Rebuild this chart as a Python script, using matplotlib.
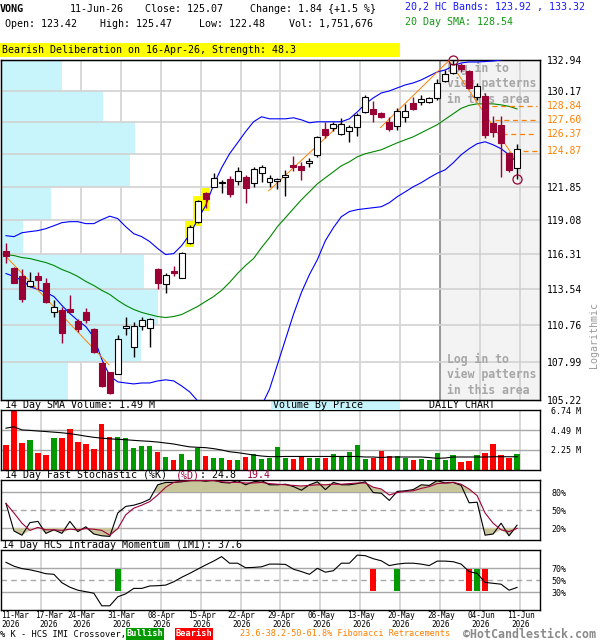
import numpy as np
import matplotlib
matplotlib.use("Agg")
import matplotlib.pyplot as plt
import matplotlib.ticker as mticker
from matplotlib.patches import Rectangle

plt.rcParams['font.family'] = ['DejaVu Sans Mono']

# ---------------- data ----------------
dates = ['11-Mar', '17-Mar', '24-Mar', '31-Mar', '08-Apr', '15-Apr', '22-Apr',
         '29-Apr', '06-May', '13-May', '20-May', '28-May', '04-Jun', '11-Jun']
date_idx = [0, 4, 9, 14, 19, 24, 29, 34, 39, 44, 49, 54, 59, 64]

opens = [116.59, 115.24, 114.61, 113.82, 114.61, 114.06, 111.82, 111.97, 112.05, 111.12,
         111.82, 110.51, 107.95, 107.23, 107.15, 110.59, 109.09, 110.74, 110.59, 115.16,
         113.98, 115.01, 114.46, 117.25, 118.94, 121.34, 121.84, 122.17, 122.51, 122.34,
         122.68, 122.17, 123.02, 122.26, 122.34, 122.68, 123.70, 123.61, 123.87, 124.55,
         126.79, 126.88, 126.36, 126.62, 126.97, 128.29, 128.55, 128.20, 127.40, 127.05,
         127.84, 129.08, 129.17, 129.17, 129.52, 131.04, 131.76, 132.49, 131.94, 129.61,
         129.70, 127.31, 127.14, 124.72, 123.42]
highs = [117.22, 115.30, 115.16, 114.93, 114.93, 114.46, 112.74, 112.20, 113.13, 111.28,
         112.12, 110.58, 108.00, 107.30, 110.06, 111.43, 111.05, 111.43, 111.30, 115.24,
         114.85, 115.40, 116.51, 118.70, 120.76, 121.42, 123.02, 122.43, 122.77, 123.53,
         122.85, 123.53, 123.70, 122.85, 122.60, 123.27, 124.46, 123.95, 124.29, 126.19,
         127.40, 127.40, 127.75, 127.14, 128.20, 129.79, 129.26, 128.29, 127.84, 128.64,
         128.99, 129.61, 129.79, 129.61, 131.22, 132.03, 132.92, 132.67, 132.00, 130.86,
         129.97, 127.93, 127.93, 124.80, 125.47]
lows = [115.64, 114.00, 112.59, 113.74, 113.58, 112.51, 111.43, 109.46, 111.80, 110.29,
        110.97, 108.70, 106.20, 105.63, 107.10, 110.06, 108.39, 110.44, 109.09, 113.58,
        113.28, 114.61, 114.44, 117.17, 118.86, 120.10, 121.80, 121.34, 121.01, 122.00,
        120.51, 121.84, 122.26, 121.84, 121.67, 121.09, 123.19, 122.43, 123.53, 124.38,
        126.02, 126.62, 126.27, 125.67, 126.19, 128.20, 127.40, 127.75, 126.62, 126.71,
        127.40, 128.46, 128.90, 129.08, 129.35, 130.95, 131.67, 131.85, 130.32, 129.35,
        126.02, 126.10, 122.68, 123.10, 122.48]
closes = [116.19, 114.06, 112.82, 114.22, 114.30, 112.59, 112.20, 110.21, 111.82, 110.51,
          111.20, 108.72, 106.21, 105.70, 109.76, 110.74, 110.74, 111.20, 111.28, 114.06,
          114.69, 114.85, 116.43, 118.54, 120.68, 120.84, 122.60, 122.26, 121.26, 123.19,
          121.75, 123.36, 123.53, 122.60, 122.51, 122.85, 123.53, 123.27, 124.04, 126.10,
          126.27, 127.23, 127.23, 126.97, 128.02, 129.61, 128.11, 127.84, 126.79, 128.38,
          128.38, 128.55, 129.44, 129.52, 130.86, 131.67, 132.58, 132.13, 130.41, 130.59,
          126.27, 126.53, 125.59, 123.23, 125.07]

band_upper = [117.81, 117.73, 118.05, 118.14, 118.22, 118.38, 118.62, 118.87, 118.95, 118.95,
              118.79, 118.79, 119.12, 119.40, 119.20, 118.54, 117.97, 117.73, 117.33, 116.77,
              116.29, 116.37, 117.01, 117.89, 119.12, 120.27, 122.01, 123.44, 124.64, 125.58,
              126.54, 127.41, 127.85, 127.67, 127.67, 127.67, 127.76, 127.58, 127.32, 127.41,
              127.41, 127.41, 127.41, 127.67, 128.28, 128.99, 129.52, 129.96, 130.14, 130.41,
              130.68, 130.86, 131.13, 131.49, 131.85, 132.03, 132.39, 132.67, 132.76, 132.76,
              132.80, 132.85, 132.94, 133.21, 133.32]
sma20 = [116.29, 116.21, 116.05, 115.97, 115.81, 115.65, 115.42, 115.10, 114.86, 114.55,
         114.16, 113.84, 113.46, 113.14, 112.68, 112.29, 111.98, 111.75, 111.59, 111.44,
         111.36, 111.44, 111.59, 111.90, 112.21, 112.60, 112.98, 113.46, 114.08, 114.79,
         115.42, 115.97, 116.85, 117.65, 118.55, 119.28, 120.02, 120.76, 121.42, 122.09,
         122.60, 123.10, 123.61, 123.95, 124.38, 124.64, 124.81, 124.98, 125.28, 125.58,
         125.84, 126.10, 126.45, 126.80, 127.15, 127.63, 128.11, 128.59, 128.86, 128.99,
         128.99, 128.99, 128.90, 128.77, 128.54]
band_lower = [114.78, 114.55, 114.24, 113.76, 113.53, 113.30, 112.98, 112.29, 111.67, 111.13,
              110.67, 109.85, 108.20, 106.98, 106.54, 106.46, 106.39, 106.46, 106.46, 106.61,
              106.69, 106.61, 106.24, 105.81, 105.16, 104.60, 104.10, 103.70, 103.40, 103.30,
              103.40, 103.70, 104.80, 106.00, 107.83, 109.70, 111.60, 113.30, 114.70, 115.89,
              117.41, 118.46, 119.36, 119.78, 119.94, 120.02, 120.10, 120.18, 120.51, 121.01,
              121.42, 121.84, 122.18, 122.60, 122.98, 123.27, 123.86, 124.55, 125.07, 125.50,
              125.67, 125.41, 125.07, 124.55, 123.92]

# volume in millions of shares
volume = [2.81, 6.90, 3.00, 3.37, 1.87, 1.68, 3.63, 3.63, 4.60, 3.14,
          2.92, 2.36, 5.13, 3.71, 3.71, 3.59, 2.47, 2.70, 2.70, 2.02,
          1.46, 1.12, 1.80, 1.12, 2.51, 1.57, 1.35, 1.35, 1.12, 1.12,
          1.46, 1.80, 1.24, 1.35, 2.58, 1.35, 1.24, 1.57, 1.35, 1.35,
          1.35, 1.80, 1.50, 2.02, 2.81, 1.24, 1.35, 2.13, 1.57, 1.57,
          1.35, 1.12, 1.24, 1.12, 1.91, 1.12, 1.68, 0.90, 1.01, 1.68,
          1.91, 2.92, 1.68, 1.35, 1.75]
vol_sma = [4.70, 4.85, 4.50, 4.45, 4.38, 4.32, 4.25, 4.18, 4.08, 3.95,
           3.80, 3.67, 3.58, 3.50, 3.45, 3.40, 3.33, 3.27, 3.22, 3.14,
           3.03, 2.92, 2.75, 2.60, 2.55, 2.51, 2.40, 2.25, 2.05, 1.95,
           1.82, 1.68, 1.57, 1.50, 1.50, 1.52, 1.52, 1.52, 1.52, 1.52,
           1.52, 1.52, 1.52, 1.52, 1.52, 1.46, 1.46, 1.40, 1.46, 1.46,
           1.46, 1.46, 1.46, 1.40, 1.31, 1.35, 1.46, 1.46, 1.46, 1.46,
           1.46, 1.49, 1.49, 1.49, 1.49]

# volume by price, bins from bottom to top (millions)
vbp_volume = [9.4, 19.6, 22.0, 20.0, 3.1, 7.0, 18.1, 18.8, 14.3, 8.5]

stoch_k = [61, 15, 8, 29, 31, 11, 17, 11, 31, 14,
           22, 10, 7, 6, 45, 56, 58, 62, 68, 92,
           96, 96, 97, 99, 100, 98, 100, 96, 95, 99,
           92, 97, 99, 92, 92, 93, 89, 83, 92, 97,
           84, 96, 92, 92, 94, 97, 79, 78, 66, 81,
           82, 84, 92, 91, 99, 95, 96, 91, 62, 63,
           8, 10, 28, 7, 24.8]
stoch_d = [61, 45, 28, 16, 21, 17, 17, 16, 18, 17,
           19, 18, 16, 8, 19, 42, 53, 58, 64, 75,
           88, 96, 98, 99, 99, 99, 99, 97, 96, 96,
           95, 95, 96, 94, 93, 92, 91, 90, 91, 92,
           92, 93, 93, 94, 95, 95, 88, 85, 75, 79,
           81, 82, 86, 89, 94, 95, 96, 93, 85, 74,
           45, 28, 17, 14, 19.4]

imi = [79.4, 73, 69, 67, 64, 60.5, 59.5, 45.5, 38, 33,
       30.5, 28, 7, 7, 22, 27, 36, 36, 40, 40.5,
       41.5, 47, 54.5, 61, 68, 75, 81.5, 89, 78, 78,
       70.5, 71, 72, 76.5, 76.5, 76, 68, 64, 59.5, 69.5,
       63, 65.5, 78, 78, 91.5, 90.5, 85.5, 82, 74, 76.5,
       78, 78, 76.5, 74, 81.5, 81.5, 80.5, 76.5, 64, 61,
       46, 44.5, 43, 33, 37.6]
cross_idx = [14, 46, 49, 58, 59, 60]
cross_bull = [True, False, True, False, True, False]

pattern_idx = [23, 24, 25]
fib_levels = [128.84, 127.60, 126.37, 124.87]
fib_from = [60.9, 61.3, 62.1, 64.7]
trend_x = [(-0.25, 12.9), (32.9, 42.0), (46.9, 55.9), (55.0, 64.0)]
trend_p = [(116.3, 107.8), (121.5, 127.3), (126.9, 133.2), (133.4, 123.95)]

# ---------------- styling ----------------
W, H = 600, 640
CANDLE_RED = '#990033'
D_RED = '#a0003c'
VOL_RED = '#ff0000'
VOL_GREEN = '#009900'
ORANGE = '#ff8000'
CYAN = '#c8f4fc'
GRID = '#d2d2d2'
HGRID = '#a8a8a8'
XLIM = (-0.625, 66.875)
grid_x = np.arange(5, 66, 5) - 0.625
shade_from = 54.375

fig = plt.figure(figsize=(W / 100, H / 100), dpi=100)


def panel(top, bottom):
    return fig.add_axes([1 / W, 1 - bottom / H, 539 / W, (bottom - top) / H])


def ftext(px, py, s, **kw):
    kw.setdefault('va', 'center')
    kw.setdefault('fontsize', 7.2)
    return fig.text(px / W, 1 - py / H, s, **kw)


def fbox(x0, y0, x1, y1, color):
    fig.add_artist(Rectangle((x0 / W, 1 - y1 / H), (x1 - x0) / W, (y1 - y0) / H,
                             transform=fig.transFigure, color=color, lw=0))


x = np.arange(len(closes))
o, hi, lo, c = map(np.array, (opens, highs, lows, closes))
up = c >= o

# ---------------- main price panel ----------------
ax = panel(60, 400)
ax.set_yscale('log')
ax.set_xlim(*XLIM)
ax.set_ylim(105.22, 132.94)
back = ax.twiny()
back.set_xlim(0, 75.6)
back.set_xticks([])
ax.set_zorder(back.get_zorder() + 1)
ax.patch.set_visible(False)
xt = ax.get_xaxis_transform()

back.add_patch(Rectangle((shade_from, 0), XLIM[1] - shade_from, 1, transform=xt,
                         color='#f3f3f3', lw=0, zorder=0))
for gx in grid_x:
    back.plot([gx, gx], [0, 1], transform=xt, color='#888888' if gx == shade_from else GRID,
              lw=1.2, zorder=0.5)
price_ticks = np.linspace(105.22, 132.94, 11)
back.barh(price_ticks[:-1], vbp_volume, height=np.diff(price_ticks), align='edge',
          color=CYAN, lw=0, zorder=1)
for t in price_ticks[1:-1]:
    back.axhline(t, color=GRID, lw=1.2, zorder=2)
back.set_xlim(0, 75.6)

# login notes (top-left corner of each block, in pixels)
for py in (62, 353):
    ax.text(446 / 539, 1 - (py - 60) / 340, 'Log in to\nview patterns\nin this area',
            transform=ax.transAxes, color='#a6a6a6', fontsize=8.3, fontweight='bold',
            va='top', ha='left', linespacing=1.22, zorder=1)

# pattern highlight
ax.bar(pattern_idx, hi[pattern_idx] * 1.0025 - lo[pattern_idx] * 0.9975,
       bottom=lo[pattern_idx] * 0.9975, width=1.15, color='#ffff00', lw=0, zorder=2)

ax.plot(x, band_upper, color='#0000ff', lw=0.8, zorder=3)
ax.plot(x, band_lower, color='#0000ff', lw=0.8, zorder=3)
ax.plot(x, sma20, color='#008800', lw=0.8, zorder=3)
for tx, tp in zip(trend_x, trend_p):
    ax.plot(tx, tp, color=ORANGE, lw=0.7, zorder=3)
for lvl, f0 in zip(fib_levels, fib_from):
    ax.hlines(lvl, f0, 66.5, colors=ORANGE, lw=0.9, linestyles=(0, (4, 3)), zorder=3)
    ax.text(1.012, lvl, f'{lvl:.2f}', transform=ax.get_yaxis_transform(), color=ORANGE,
            fontsize=7, va='center', ha='left')

ax.vlines(x, lo, hi, colors=np.where(up, 'black', CANDLE_RED), lw=1, zorder=4)
ax.bar(x, np.maximum(np.abs(c - o), 0.02), bottom=np.minimum(o, c), width=0.75,
       color=np.where(up, 'white', CANDLE_RED), edgecolor=np.where(up, 'black', CANDLE_RED),
       lw=0.8, zorder=5)
ax.plot([56], [hi[56]], 'o', ms=6.5, mfc='none', mec=CANDLE_RED, mew=0.9, zorder=6,
        clip_on=False)
ax.plot([64], [lo[64]], 'o', ms=6.5, mfc='none', mec=CANDLE_RED, mew=0.9, zorder=6)

ax.yaxis.tick_right()
ax.yaxis.set_minor_locator(mticker.NullLocator())
ax.set_yticks(price_ticks)
ax.set_yticklabels(['' if abs(t - 127.40) < 0.05 or abs(t - 124.63) < 0.05 else f'{t:.2f}'
                    for t in price_ticks])
ax.tick_params(axis='y', length=0, pad=5, labelsize=7)
ax.set_xticks([])
ax.set_ylim(105.22, 132.94)
ax.set_xlim(*XLIM)
for s in ax.spines.values():
    s.set_linewidth(1)


def style_lower(a, ylim, ticks, labels):
    a.set_xlim(*XLIM)
    a.set_ylim(*ylim)
    a.set_xticks([])
    a.yaxis.tick_right()
    a.set_yticks(ticks)
    a.set_yticklabels(labels)
    a.tick_params(axis='y', length=0, pad=8, labelsize=6)
    for gx in grid_x:
        a.axvline(gx, color=GRID, lw=1.2, zorder=0)
    for s in a.spines.values():
        s.set_linewidth(1)


# ---------------- volume panel ----------------
av = panel(410, 470)
style_lower(av, (0, 6.74), [2.25, 4.49, 6.74], ['2.25 M', '4.49 M', '6.74 M'])
for t in (2.25, 4.49):
    av.axhline(t, color=HGRID, lw=1, zorder=0.5)
av.bar(x, volume, width=0.67, color=np.where(up, VOL_GREEN, VOL_RED), lw=0, zorder=2)
av.plot(x, vol_sma, color='black', lw=0.8, zorder=3)

# ---------------- stochastic panel ----------------
ast = panel(480, 540)
style_lower(ast, (0, 100), [20, 50, 80], ['20%', '50%', '80%'])
ast.axhline(80, color=HGRID, lw=1, zorder=0.5)
ast.axhline(20, color=HGRID, lw=1, zorder=0.5)
ast.axhline(50, color=HGRID, lw=1, ls=(0, (4, 3)), zorder=0.5)
k = np.array(stoch_k, float)
d = np.array(stoch_d, float)
top_env = np.maximum(k, d)
bot_env = np.minimum(k, d)
ast.fill_between(x, 80, top_env, where=top_env > 80, interpolate=True, color='#c9c59b',
                 lw=0, zorder=1)
ast.fill_between(x, 20, bot_env, where=bot_env < 20, interpolate=True, color='#c9c59b',
                 lw=0, zorder=1)
ast.plot(x, k, color='black', lw=0.8, zorder=3)
ast.plot(x, d, color=D_RED, lw=0.8, zorder=3)

# ---------------- IMI panel ----------------
ai = panel(550, 610)
style_lower(ai, (0, 100), [30, 50, 70], ['30%', '50%', '70%'])
ai.axhline(70, color=HGRID, lw=1, zorder=0.5)
ai.axhline(30, color=HGRID, lw=1, zorder=0.5)
ai.axhline(50, color=HGRID, lw=1, ls=(0, (4, 3)), zorder=0.5)
ai.bar(cross_idx, 36, bottom=32, width=0.75,
       color=[VOL_GREEN if b else VOL_RED for b in cross_bull], lw=0, zorder=2)
ai.plot(x, imi, color='black', lw=0.8, zorder=3)

for n, (lab, di) in enumerate(zip(dates, date_idx)):
    if n == 0:
        ai.text(0, -0.01, lab + '\n2026', transform=ai.transAxes, ha='left', va='top',
                fontsize=5.6, linespacing=1.05)
    else:
        xpos = di + 0.375 + (1.0 if n == 1 else 0.1)
        ai.text(xpos, -0.01, lab + '\n2026', transform=ai.get_xaxis_transform(),
                ha='center', va='top', fontsize=5.6, linespacing=1.05)

# ---------------- header / labels ----------------
ftext(0, 9, 'VONG', fontweight='bold')
ftext(70, 9, '11-Jun-26')
ftext(145, 9, 'Close: 125.07')
ftext(250, 9, 'Change: 1.84 {+1.5 %}')
ftext(5, 24, 'Open: 123.42')
ftext(100, 24, 'High: 125.47')
ftext(199, 24, 'Low: 122.48')
ftext(289, 24, 'Vol: 1,751,676')
ftext(405, 7, '20,2 HC Bands: 123.92 , 133.32', color='#1a1aff')
ftext(405, 22, '20 Day SMA: 128.54', color='#119911')
fbox(0, 43, 400, 57, '#ffff00')
ftext(2, 50, 'Bearish Deliberation on 16-Apr-26, Strength: 48.3')

ftext(594, 335, 'Logarithmic', rotation=90, ha='center', color='#9a9a9a')

ftext(5, 405, '14 Day SMA Volume: 1.49 M')
fbox(271, 400, 400, 410, CYAN)
ftext(273, 405, 'Volume By Price')
ftext(462, 405, 'DAILY CHART', ha='center')

ftext(5, 475, '14 Day Fast Stochastic (%K)')
ftext(176, 475, '(%D)', color=D_RED)
ftext(200, 475, ': 24.8')
ftext(247, 475, '19.4', color=D_RED)
ftext(2, 545, '14 Day HCS Intraday Momentum (IMI): 37.6')

ftext(0, 634, '% K - HCS IMI Crossover,', fontsize=6.2)
fbox(126, 628, 164, 640, VOL_GREEN)
ftext(145, 634, 'Bullish', fontsize=6.2, color='white', fontweight='bold', ha='center')
fbox(175, 628, 213, 640, VOL_RED)
ftext(194, 634, 'Bearish', fontsize=6.2, color='white', fontweight='bold', ha='center')
ftext(240, 634, '23.6-38.2-50-61.8% Fibonacci Retracements', fontsize=6.1, color=ORANGE)
ftext(463, 635, '\u00a9HotCandlestick.com', fontsize=8.4, color='#8a8a8a', fontweight='bold')

fig.savefig('out.png', dpi=100)
